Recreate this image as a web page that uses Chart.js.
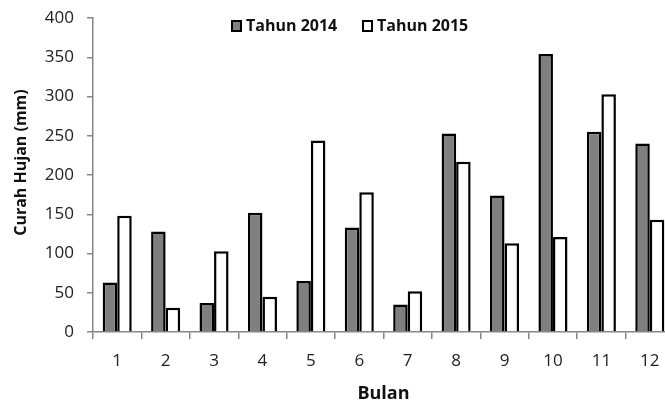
<!DOCTYPE html>
<html>
<head>
<meta charset="utf-8">
<script src="https://cdn.jsdelivr.net/npm/chart.js@4.4.1/dist/chart.umd.min.js"></script>
<style>
  html, body { margin: 0; padding: 0; background: #fff; overflow: hidden; }
  #wrap { position: relative; width: 674px; height: 400px; }
</style>
</head>
<body>
<div id="wrap"><canvas id="rainChart"></canvas></div>
<script>
// Monthly rainfall (mm)
const months = ['1', '2', '3', '4', '5', '6', '7', '8', '9', '10', '11', '12'];
const rain2014 = [63, 128, 37, 152, 65, 133, 35, 253, 174, 354, 255, 240];
const rain2015 = [148, 31, 103, 45, 244, 178, 52, 217, 113, 121, 303, 143];
const yTicks = [0, 50, 100, 150, 200, 250, 300, 350, 400];

const FONT = '"Open Sans", Lato, sans-serif';
const AXIS_GREY = '#868686';

// Legend drawn at a fixed spot above the bars
const topLegend = {
    id: 'topLegend',
    afterDraw(chart) {
        const ctx = chart.ctx;
        const items = [
            { x: 231, ds: chart.data.datasets[0] },
            { x: 362, ds: chart.data.datasets[1] }
        ];
        ctx.save();
        ctx.font = 'bold 16px ' + FONT;
        ctx.textBaseline = 'middle';
        items.forEach(item => {
            ctx.fillStyle = item.ds.backgroundColor;
            ctx.fillRect(item.x, 20, 11, 12);
            ctx.strokeStyle = '#000';
            ctx.lineWidth = 2;
            ctx.strokeRect(item.x + 1, 21, 9, 10);
            ctx.fillStyle = '#111';
            ctx.fillText(item.ds.label, item.x + 15, 26);
        });
        ctx.restore();
    }
};

const ctx = document.getElementById('rainChart').getContext('2d');
new Chart(ctx, {
    type: 'bar',
    data: {
        labels: months,
        datasets: [
            {
                label: 'Tahun 2014',
                data: rain2014,
                backgroundColor: '#7f7f7f',
                borderColor: '#000',
                borderWidth: 2.5
            },
            {
                label: 'Tahun 2015',
                data: rain2015,
                backgroundColor: '#ffffff',
                borderColor: '#000',
                borderWidth: 2.5
            }
        ]
    },
    options: {
        responsive: true,
        maintainAspectRatio: false,
        animation: false,
        layout: { padding: 0 },
        datasets: {
            bar: { categoryPercentage: 0.6, barPercentage: 1.0 }
        },
        plugins: {
            legend: { display: false },
            tooltip: { enabled: false }
        },
        scales: {
            x: {
                grid: {
                    display: true,
                    offset: true,
                    drawOnChartArea: false,
                    drawTicks: true,
                    tickLength: 7,
                    color: AXIS_GREY,
                    lineWidth: 1.5
                },
                border: { color: AXIS_GREY, width: 1.5 },
                ticks: {
                    color: '#222',
                    font: { family: FONT, size: 17 },
                    padding: 12,
                    maxRotation: 0
                },
                title: {
                    display: true,
                    text: 'Bulan',
                    color: '#111',
                    font: { family: FONT, size: 18, weight: 'bold', lineHeight: 1.0 },
                    padding: { top: 4, bottom: -3 }
                },
                afterFit(scale) { scale.height = 68; }
            },
            y: {
                min: 0,
                max: 400,
                afterBuildTicks(scale) {
                    scale.ticks = yTicks.map(v => ({ value: v }));
                },
                grid: {
                    display: true,
                    drawOnChartArea: false,
                    drawTicks: true,
                    tickLength: 6,
                    color: AXIS_GREY,
                    lineWidth: 1.5
                },
                border: { color: AXIS_GREY, width: 1.5 },
                ticks: {
                    color: '#222',
                    font: { family: FONT, size: 17 },
                    padding: 13
                },
                title: {
                    display: true,
                    text: '      Curah Hujan (mm)',
                    color: '#111',
                    font: { family: FONT, size: 16, weight: 'bold' },
                    padding: { top: 12, bottom: 0 }
                },
                afterFit(scale) {
                    scale.width = 93;
                    // top of the plot sits at the 400 line, y = 18
                    scale.paddingTop = 18;
                    scale.paddingBottom = 0;
                }
            }
        }
    },
    plugins: [topLegend]
});
</script>
</body>
</html>
